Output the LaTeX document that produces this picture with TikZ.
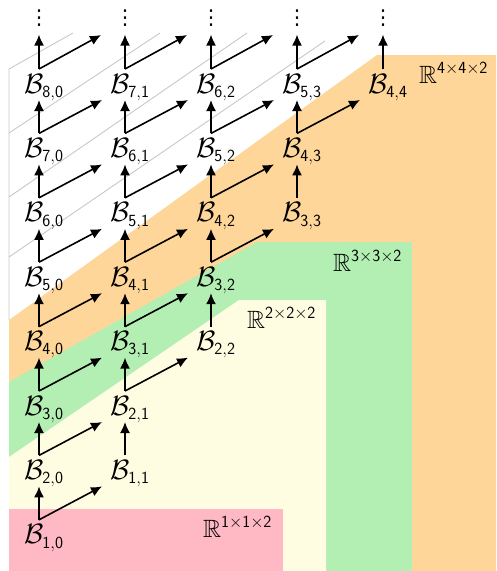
\RequirePackage{fix-cm}
\documentclass[tikz,border=0pt]{standalone}
\usepackage{amssymb}
\usepackage{fontspec}
\newfontfamily\dejavu{DejaVu Sans}
\usetikzlibrary{arrows.meta}
\DeclareMathSizes{28}{28}{17}{12}
\DeclareMathSizes{25}{25}{17}{12}
\definecolor{cpink}{RGB}{255,185,197}
\definecolor{cyellow}{RGB}{255,253,225}
\definecolor{cgreen}{RGB}{179,238,179}
\definecolor{corange}{RGB}{255,214,153}
\definecolor{cgrey}{RGB}{200,200,200}
\begin{document}
\begin{tikzpicture}[x=1pt,y=-1pt,
  bnode/.style={anchor=base west, inner sep=0pt, outer sep=0pt, font=\fontsize{28}{34}\selectfont},
  rnode/.style={anchor=base west, inner sep=0pt, outer sep=0pt, font=\fontsize{25}{30}\selectfont},
  dotsnode/.style={inner sep=0pt, outer sep=0pt, font=\dejavu\fontsize{20.5}{21}\selectfont},
  arr/.style={line width=1.6pt, -{Latex[length=11pt,width=10pt]}},
  greyline/.style={draw=cgrey, line width=0.9pt}]
\useasboundingbox (0,0) rectangle (496,571);
% regions
\fill[corange] (9,571) -- (9,320) -- (377,55) -- (496,55) -- (496,571) -- cycle;
\fill[cgreen] (9,571) -- (9,382) -- (257,242) -- (412,242) -- (412,571) -- cycle;
\fill[cyellow] (9,571) -- (9,457) -- (239,300) -- (326,300) -- (326,571) -- cycle;
\fill[cpink] (9,509) rectangle (283,571);
% grey outlines
\draw[greyline] (9,320) -- (9,69) -- (73,33);
\draw[greyline] (9,133) -- (160,33);
\draw[greyline] (9,197) -- (247,33);
\draw[greyline] (9,257) -- (325,41);
% labels of the spaces
\node[rnode] (r4) at (419,83) {$\mathbb{R}^{\mathsf{4}\times\mathsf{4}\times\mathsf{2}}$};
\node[rnode] (r3) at (333,271) {$\mathbb{R}^{\mathsf{3}\times\mathsf{3}\times\mathsf{2}}$};
\node[rnode] (r2) at (247,328) {$\mathbb{R}^{\mathsf{2}\times\mathsf{2}\times\mathsf{2}}$};
\node[rnode] (r1) at (203,537) {$\mathbb{R}^{\mathsf{1}\times\mathsf{1}\times\mathsf{2}}$};
% nodes
\foreach \j in {0,...,4}{
  \pgfmathtruncatemacro\imin{max(\j,1)}
  \pgfmathtruncatemacro\imax{8-\j}
  \foreach \i in {\imin,...,\imax}{
    \node[bnode] (b\i\j) at ({24+86*\j},{93+64.4*(8-\i-\j)}) {$\mathcal{B}_{\mathsf{\i,\j}}$};
  }
  \node[dotsnode] (d\j) at ({39+86*\j},18) {⋮};
  \coordinate (e\j) at ({39+86*(\j+1)-24},35);
}
% arrows
\foreach \j in {0,...,4}{
  \pgfmathtruncatemacro\imin{max(\j,1)}
  \pgfmathtruncatemacro\imax{8-\j}
  \pgfmathtruncatemacro\jnext{\j+1}
  \foreach \i in {\imin,...,\imax}{
    \pgfmathtruncatemacro\inext{\i+1}
    \ifnum\i<\imax
      \draw[arr] ([xshift=15pt,yshift=24pt]b\i\j.base west) -- ([xshift=15pt,yshift=-7pt]b\inext\j.base west);
    \else
      \draw[arr] ([xshift=15pt,yshift=24pt]b\i\j.base west) -- ([xshift=15pt,yshift=58.4pt]b\i\j.base west);
    \fi
    \ifnum\i>\j
      \ifnum\i<\imax
        \draw[arr] ([xshift=15pt,yshift=24pt]b\i\j.base west) -- ([xshift=-8pt,yshift=-7pt]b\i\jnext.base west);
      \else
        \draw[arr] ([xshift=15pt,yshift=24pt]b\i\j.base west) -- (e\j);
      \fi
    \fi
  }
}
\end{tikzpicture}
\end{document}
